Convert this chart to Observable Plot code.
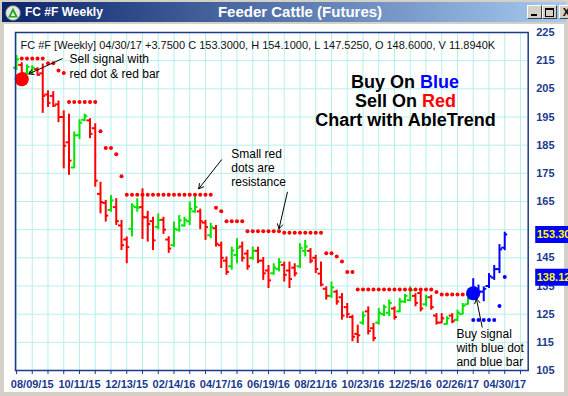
<!DOCTYPE html>
<html><head><meta charset="utf-8">
<script src="https://cdn.jsdelivr.net/npm/d3@7"></script>
<script src="https://cdn.jsdelivr.net/npm/@observablehq/plot@0.6"></script>
<style>
html,body{margin:0;padding:0;background:#d4d0c8;}
#win{position:relative;width:568px;height:396px;overflow:hidden;background:#d4d0c8;font-family:'Liberation Sans',Arial,sans-serif;}
#titlebar{position:absolute;left:2px;top:2px;width:564px;height:20px;background:linear-gradient(to right,#0a246a,#a6caf0);}
#ttl1{position:absolute;left:23px;top:3px;color:#fff;font-size:12px;font-weight:bold;line-height:15px;}
#ttl2{position:absolute;left:0;width:596px;top:1px;text-align:center;color:#fff;font-size:15px;font-weight:bold;line-height:18px;}
#icon{position:absolute;left:3px;top:3px;}
.btn{position:absolute;top:3px;width:13px;height:12px;background:#d4d0c8;border:1px solid;border-color:#fff #404040 #404040 #fff;font-size:11px;font-weight:bold;color:#000;text-align:center;line-height:12px;}
#pane{position:absolute;left:4px;top:24px;width:560px;height:368px;background:#fff;}
#chart{position:absolute;left:0;top:0;}
</style></head>
<body>
<div id="win">
  <div id="titlebar">
    <svg id="icon" width="16" height="16"><circle cx="8" cy="8" r="7.5" fill="#e8e8e8" stroke="#606060"/><path d="M8 2.5 L13 12.5 L3 12.5 Z" fill="#22aa22"/><path d="M8 7 L10 11 L6 11 Z" fill="#fff"/></svg>
    <div id="ttl1">FC #F Weekly</div>
    <div id="ttl2">Feeder Cattle (Futures)</div>
    <div class="btn" style="left:525px;"><div style="position:absolute;left:3px;top:8px;width:6px;height:2px;background:#000"></div></div>
    <div class="btn" style="left:540px;"><div style="position:absolute;left:2px;top:2px;width:7px;height:6px;border:1px solid #000;border-top-width:2px"></div></div>
    <div class="btn" style="left:557px;">X</div>
  </div>
  <div id="pane"></div>
  <div id="chart"></div>
</div>
<script>
// ---- data ----
const startDate = "2015-07-19"; // first weekly bar
const tickLabels = ["08/09/15","10/11/15","12/13/15","02/14/16","04/17/16","06/19/16","08/21/16","10/23/16","12/25/16","02/26/17","04/30/17"];
const yGrid = [105,115,125,135,145,155,165,175,185,195,205,215,225];
const yLabels = [105,115,125,135,145,165,175,185,195,205,215,225]; // 155 sits under the last-price box
const high = [216.8,214.3,213.5,213.2,212.5,213.8,204.3,204.0,200.7,197.2,
  196.0,189.7,194.0,196.0,194.4,192.6,171.8,165.4,167.1,166.0,
  158.3,152.4,164.2,166.0,169.5,161.5,159.4,160.6,159.4,152.5,
  157.7,160.0,159.4,164.8,166.7,162.3,158.3,157.3,156.5,150.6,
  145.3,148.8,151.8,150.6,147.7,148.8,148.8,145.1,142.3,142.9,
  144.7,143.5,143.5,142.9,150.0,151.2,148.3,145.9,143.5,134.7,
  136.4,133.5,132.3,128.8,124.6,121.1,125.8,127.6,121.7,127.0,
  128.2,130.0,127.6,130.6,132.0,134.7,132.3,133.5,131.7,131.7,
  125.2,125.2,124.1,125.2,126.4,128.8,131.2,137.6,135.3,134.7,
  139.4,142.3,149.7,154.1];
const low = [211.5,209.8,209.8,210.0,209.5,196.3,198.4,198.5,193.0,176.6,
  174.3,176.6,187.0,193.3,187.3,170.1,160.6,157.7,161.2,156.5,
  147.6,142.9,152.4,161.2,151.5,150.6,147.6,155.0,153.3,146.6,
  148.8,154.1,155.9,156.5,160.8,155.0,151.2,151.8,148.8,141.2,
  138.8,140.6,142.9,143.5,140.6,144.1,142.9,137.0,134.1,138.8,
  140.0,136.4,134.1,138.2,141.2,145.3,142.9,139.4,134.7,130.0,
  130.6,128.2,122.9,123.5,115.2,114.6,121.1,117.6,115.2,121.1,
  124.1,124.1,122.9,125.5,128.8,129.4,127.6,125.8,127.6,126.4,
  121.1,121.6,121.1,121.6,122.3,124.7,128.2,131.5,132.3,129.4,
  134.1,137.0,139.4,147.525];
const open = [212.5,213.5,210.5,211.0,212.0,210.5,203.0,202.5,199.5,195.0,
  186.0,177.1,188.5,194.0,193.8,191.0,167.7,164.5,162.0,163.0,
  156.5,151.5,155.3,163.0,163.0,159.4,158.0,156.0,158.5,151.5,
  149.5,155.0,156.5,158.0,161.5,161.5,157.5,153.0,155.5,149.5,
  144.0,142.0,146.0,149.0,146.5,145.0,147.5,144.0,140.5,139.5,
  141.0,142.5,140.5,141.5,142.0,147.5,147.5,145.0,139.4,134.0,
  131.5,133.0,131.0,127.5,124.0,118.0,122.0,126.0,120.0,122.0,
  125.0,125.5,127.0,126.0,129.5,130.0,131.5,132.5,128.5,131.0,
  124.5,122.0,121.5,124.5,123.0,125.0,128.5,132.0,134.0,133.0,
  135.0,138.0,141.0,148.6];
const close = [215.5,210.5,212.8,212.5,210.0,202.5,200.0,199.0,195.0,184.8,
  179.5,188.5,193.0,195.3,189.0,172.4,164.8,160.0,165.4,158.0,
  149.5,148.8,163.5,162.8,159.4,157.0,151.2,158.4,155.0,148.3,
  155.3,158.3,158.5,162.4,163.0,158.0,155.9,156.0,150.0,145.0,
  140.0,147.6,148.5,145.0,142.0,147.5,144.0,139.5,137.0,141.5,
  143.5,139.0,137.5,139.5,148.5,149.0,144.0,141.0,135.5,131.5,
  134.5,129.5,124.5,125.0,117.0,117.5,124.5,119.0,116.5,125.5,
  127.5,129.0,124.0,129.5,131.5,133.5,129.0,127.0,131.0,127.5,
  122.0,123.5,123.5,122.5,125.5,128.0,130.5,134.5,133.0,134.0,
  138.5,141.0,148.0,153.3];
// trend colour of each bar: G green, R red (sell), B blue (buy)
const trend = ("GRGGR"+"RRRRRR"+"GGG"+"RRRR"+"G"+"RRR"+"GG"+"RRR"+"G"+"RR"+"GGGGG"+"RR"+"G"+"RRR"+"GG"+"RR"+"G"+"RRR"+"GG"+"RRR"+"GG"+"RRRR"+"G"+"RRRRR"+"G"+"RR"+"GGG"+"R"+"GGG"+"RR"+"G"+"RRR"+"G"+"R"+"GGG"+"BBBBBBB").split("");
// AbleTrend stop dots (resistance red / support blue)
const stop = [null,
  215.8,215.8,215.8,215.8,215.8,214.1,214.1,211.5,210.6,
  200.3,200.3,200.3,200.3,200.3,200.3,189.9,184.0,184.0,181.8,174.0,
  167.4,167.4,167.4,167.4,167.4,167.4,167.4,167.4,167.4,167.4,167.4,167.4,167.4,167.4,167.4,167.4,167.4,
  162.8,161.5,158.0,158.0,158.0,158.0,
  154.4,154.4,154.4,154.4,154.4,154.4,154.4,
  153.9,153.9,153.9,153.9,153.9,153.9,153.9,153.9,
  146.6,146.6,145.5,143.7,140.0,140.0,
  133.8,133.8,133.8,133.8,133.8,133.8,133.8,133.8,133.8,133.8,133.8,133.8,133.8,133.8,133.8,
  132.9,132.0,132.0,132.0,132.0,132.0,132.0,
  122.9,122.9,122.9,122.9,122.9,127.9,138.2];
const signalIndex = [1, 87];
const signalValue = [208.4, 132.4];
const signalType = ["R", "B"];
const priceBoxes = [153.30, 138.12];
const header = "FC #F [Weekly] 04/30/17 +3.7500 C 153.3000, H 154.1000, L 147.5250, O 148.6000, V 11.8940K";

// ---- build ----
const DAY = 864e5;
const t0 = d3.utcParse("%Y-%m-%d")(startDate).getTime();
const dateAt = k => new Date(t0 + k * 7 * DAY);
const colors = {G: "#00e400", R: "#ff0000", B: "#0000ff"};
const navy = "#1b3a8c";
const bars = high.map((h, i) => ({date: dateAt(i), high: h, low: low[i], open: open[i], close: close[i], trend: trend[i]}));
const stops = stop.map((v, i) => ({date: dateAt(i), value: v, c: trend[i] === "B" ? "B" : "R"})).filter(d => d.value != null);
const signals = signalIndex.map((k, i) => ({date: dateAt(k), value: signalValue[i], c: signalType[i]}));
const parseLbl = d3.utcParse("%m/%d/%y");
const labelMap = new Map(tickLabels.map(s => [+parseLbl(s), s]));
const tickDates = d3.range(0, 97, 3).map(dateAt);
const TICK = 4 * DAY;

const arrows = [
  {x1: dateAt(8.7), y1: 215.7, x2: dateAt(2.34), y2: 210.3},
  {x1: dateAt(39.05), y1: 179.8, x2: dateAt(34.7), y2: 169.5},
  {x1: dateAt(51.6), y1: 168.3, x2: dateAt(50.0), y2: 155.3},
  {x1: dateAt(88.7), y1: 120.4, x2: dateAt(87.6), y2: 130.5}
];

const font = "'Liberation Sans', Arial, sans-serif";
const big = {fontSize: 18, fontWeight: "bold"};
const chart = Plot.plot({
  width: 568, height: 396,
  marginLeft: 15, marginRight: 40.3, marginTop: 32, marginBottom: 26,
  style: {background: "transparent", fontFamily: font, overflow: "visible"},
  x: {type: "utc", domain: [dateAt(-0.19), dateAt(97.47)]},
  y: {domain: [105, 225]},
  marks: [
    Plot.gridX(tickDates, {stroke: "#b6eeee", strokeOpacity: 1}),
    Plot.gridY(yGrid, {stroke: "#b6eeee", strokeOpacity: 1}),
    Plot.ruleX(bars, {x: "date", y1: "low", y2: "high", stroke: d => colors[d.trend], strokeWidth: 2}),
    Plot.ruleY(bars, {y: "open", x1: d => new Date(+d.date - TICK), x2: "date", stroke: d => colors[d.trend], strokeWidth: 2}),
    Plot.ruleY(bars, {y: "close", x1: "date", x2: d => new Date(+d.date + TICK), stroke: d => colors[d.trend], strokeWidth: 2}),
    Plot.dot(stops, {x: "date", y: "value", r: 2, fill: d => colors[d.c], stroke: null}),
    Plot.dot(signals, {x: "date", y: "value", r: 7, fill: d => colors[d.c], stroke: null}),
    Plot.frame({stroke: navy, strokeWidth: 1.5}),
    Plot.text([header], {frameAnchor: "top-left", dx: 5, dy: 13, lineAnchor: "middle", textAnchor: "start", fontSize: 11, fill: "#111"}),
    Plot.text(["Sell signal with\nred dot & red bar"], {x: dateAt(10.1), y: 213.3, textAnchor: "start", lineAnchor: "middle", fontSize: 12, lineHeight: 1.28, fill: "#000"}),
    Plot.text(["Small red\ndots are\nresistance"], {x: dateAt(40.9), y: 177.0, textAnchor: "start", lineAnchor: "middle", fontSize: 12, lineHeight: 1.18, fill: "#000"}),
    Plot.text(["Buy signal\nwith blue dot\nand blue bar"], {x: dateAt(83.8), y: 113.2, textAnchor: "start", lineAnchor: "middle", fontSize: 12, lineHeight: 1.15, fill: "#000"}),
    Plot.text(["Buy On "], {x: dateAt(74.1), y: 207.4, dx: 14.5, textAnchor: "end", ...big, fill: "#000"}),
    Plot.text(["Blue"], {x: dateAt(74.1), y: 207.4, dx: 14.5, textAnchor: "start", ...big, fill: "#0000ff"}),
    Plot.text(["Sell On "], {x: dateAt(74.1), y: 200.6, dx: 16.4, textAnchor: "end", ...big, fill: "#000"}),
    Plot.text(["Red"], {x: dateAt(74.1), y: 200.6, dx: 16.4, textAnchor: "start", ...big, fill: "#ff0000"}),
    Plot.text(["Chart with AbleTrend"], {x: dateAt(74.1), y: 194.0, textAnchor: "middle", ...big, fill: "#000"}),
    Plot.arrow(arrows, {x1: "x1", y1: "y1", x2: "x2", y2: "y2", stroke: "#000", strokeWidth: 1, headLength: 8}),
    Plot.axisX({ticks: tickDates, tickFormat: d => labelMap.get(+d) ?? "", tickSize: 4, tickPadding: 6, fontSize: 11, fontWeight: "bold", color: navy, label: null}),
    Plot.axisY({anchor: "right", ticks: yLabels, tickSize: 0, tickPadding: 8, fontSize: 11, fontWeight: "bold", color: navy, label: null}),
    Plot.ruleY(priceBoxes, {y: d => d, x1: dateAt(98.9), x2: dateAt(106), stroke: "#0000ff", strokeWidth: 17}),
    Plot.text(priceBoxes, {y: d => d, x: dateAt(99.1), text: d => d.toFixed(2), textAnchor: "start", fontSize: 11, fontWeight: "bold", fill: "#ffff00"})
  ]
});
document.getElementById("chart").appendChild(chart);
</script>
</body></html>
